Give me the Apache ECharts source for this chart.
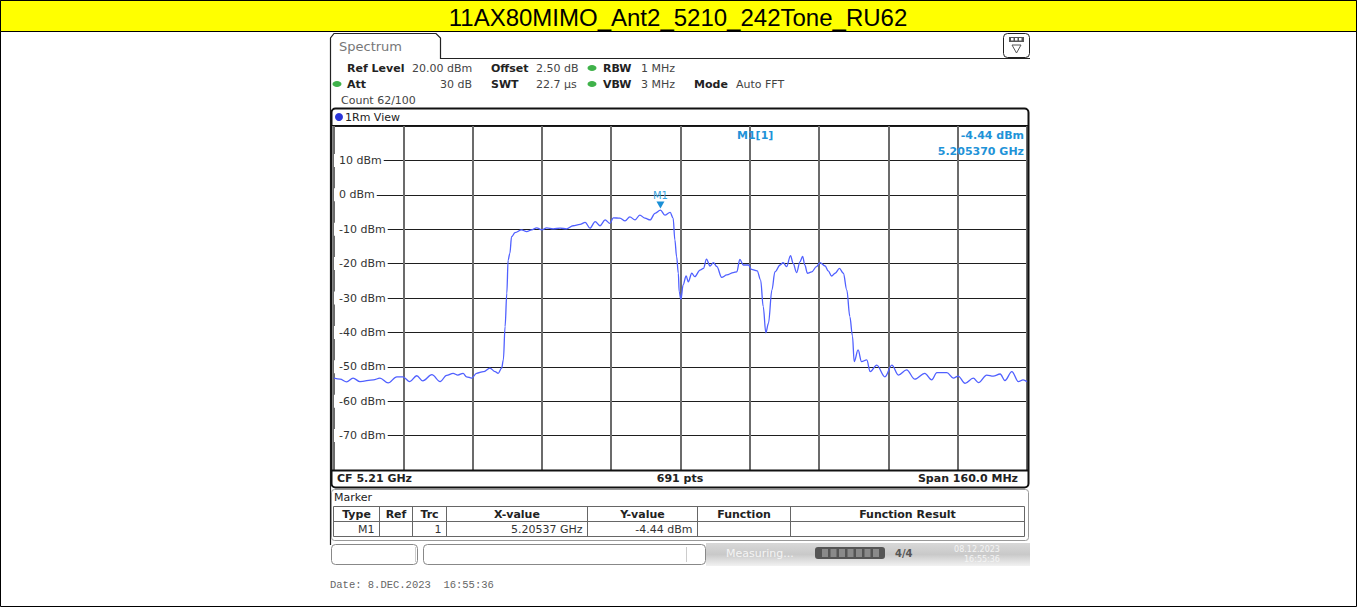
<!DOCTYPE html>
<html>
<head>
<meta charset="utf-8">
<title>11AX80MIMO_Ant2_5210_242Tone_RU62</title>
<script src="https://cdn.jsdelivr.net/npm/echarts@6/dist/echarts.min.js"></script>
<style>
  html, body { margin: 0; padding: 0; background: #fff; }
  #chart { width: 1357px; height: 607px; }
</style>
</head>
<body>
<div id="chart"></div>
<script>
// Spectrum analyzer capture: CF 5.21 GHz, span 160 MHz, 10 dB/div from 20 dBm ref level
const title = '11AX80MIMO_Ant2_5210_242Tone_RU62';
const centerGHz = 5.21;
const spanMHz = 160;
const refLevel = 20;
const bottomLevel = -80;

// Trace 1 (RM detector), frequency in GHz and level in dBm
const traceFreqGHz = [
  5.1300, 5.1314, 5.1329, 5.1344, 5.1360, 5.1391, 5.1406, 5.1425, 5.1445, 5.1459,
  5.1475, 5.1491, 5.1505, 5.1526, 5.1545, 5.1560, 5.1575, 5.1586, 5.1598, 5.1606,
  5.1618, 5.1629, 5.1645, 5.1660, 5.1672, 5.1679, 5.1687, 5.1691, 5.1695, 5.1699,
  5.1702, 5.1706, 5.1710, 5.1718, 5.1733, 5.1745, 5.1756, 5.1768, 5.1780, 5.1791,
  5.1806, 5.1822, 5.1837, 5.1852, 5.1868, 5.1880, 5.1891, 5.1903, 5.1914, 5.1926,
  5.1937, 5.1945, 5.1960, 5.1972, 5.1983, 5.1995, 5.2006, 5.2018, 5.2030, 5.2041,
  5.20537, 5.2064, 5.2076, 5.2083, 5.2087, 5.2091, 5.2095, 5.2097, 5.2101, 5.2106,
  5.2113, 5.2118, 5.2126, 5.2133, 5.2145, 5.2153, 5.2160, 5.2168, 5.2176, 5.2184,
  5.2195, 5.2207, 5.2222, 5.2230, 5.2237, 5.2245, 5.2257, 5.2264, 5.2277, 5.2285,
  5.2291, 5.2297, 5.2303, 5.2311, 5.2318, 5.2330, 5.2337, 5.2345, 5.2354, 5.2360,
  5.2368, 5.2376, 5.2382, 5.2387, 5.2393, 5.2403, 5.2414, 5.2422, 5.2434, 5.2441,
  5.2449, 5.2457, 5.2467, 5.2476, 5.2484, 5.2491, 5.2497, 5.2501, 5.2510, 5.2518,
  5.2530, 5.2538, 5.2553, 5.2572, 5.2588, 5.2603, 5.2622, 5.2641, 5.2664, 5.2680,
  5.2692, 5.2715, 5.2730, 5.2741, 5.2757, 5.2776, 5.2788, 5.2807, 5.2822, 5.2838,
  5.2849, 5.2865, 5.2880, 5.2891, 5.2900
];
const traceLevelDbm = [
  -53.3, -53.6, -54.4, -53.3, -54.3, -53.8, -53.3, -54.7, -52.9, -52.9,
  -54.3, -52.6, -54.1, -52.3, -54.3, -52.5, -51.9, -52.4, -51.9, -52.9,
  -53.3, -51.9, -51.4, -50.4, -51.4, -51.9, -50.4, -48.0, -38.3, -28.6,
  -19.0, -17.0, -12.2, -11.0, -10.2, -10.7, -10.2, -9.6, -10.2, -9.6,
  -9.9, -9.7, -9.9, -9.0, -8.6, -8.0, -9.7, -7.8, -9.0, -7.3,
  -8.3, -6.7, -6.8, -7.6, -6.4, -7.3, -5.9, -6.8, -7.3, -5.4,
  -4.44, -5.9, -5.1, -6.8, -13.1, -18.0, -22.8, -28.2, -30.4, -26.2,
  -23.6, -25.3, -22.8, -23.8, -21.9, -21.4, -18.7, -20.7, -19.7, -20.9,
  -24.0, -23.3, -22.6, -22.4, -18.8, -20.4, -20.4, -21.7, -22.1, -24.8,
  -32.5, -40.1, -37.4, -27.7, -22.4, -20.4, -19.7, -20.9, -17.7, -19.9,
  -22.6, -19.4, -17.9, -20.4, -22.8, -22.4, -20.9, -19.7, -20.7, -22.1,
  -23.6, -22.8, -21.4, -22.8, -27.7, -35.4, -41.0, -48.5, -45.1, -48.5,
  -48.0, -51.4, -49.5, -52.9, -49.5, -52.4, -50.9, -53.6, -51.9, -53.8,
  -51.7, -51.7, -53.3, -52.7, -54.8, -53.3, -54.6, -52.4, -52.7, -52.1,
  -54.0, -51.4, -54.3, -53.8, -54.3
];

// Marker M1
const markerName = 'M1';
const markerFreqGHz = 5.20537;
const markerLevelDbm = -4.44;

// Header settings
const headerRow1 = [['Ref Level', '20.00 dBm'], ['Offset', '2.50 dB'], ['RBW', '1 MHz']];
const headerRow2 = [['Att', '30 dB'], ['SWT', '22.7 µs'], ['VBW', '3 MHz'], ['Mode', 'Auto FFT']];
const countText = 'Count 62/100';
const traceLabel = '1Rm View';
const footerTexts = ['CF 5.21 GHz', '691 pts', 'Span 160.0 MHz'];
const tableHeaders = ['Type', 'Ref', 'Trc', 'X-value', 'Y-value', 'Function', 'Function Result'];
const tableRow = ['M1', '', '1', '5.20537 GHz', '-4.44 dBm', '', ''];
const dateText = 'Date: 8.DEC.2023  16:55:36';
const statusDate = ['08.12.2023', '16:55:36'];

const traceData = traceFreqGHz.map((f, i) => [(f - centerGHz) * 1000, traceLevelDbm[i]]);

const UI = 'DejaVu Sans, Verdana, sans-serif';
const FRAME_Z = 100;

function txt(text, x, y, opt) {
  opt = opt || {};
  return {
    type: 'text', z: FRAME_Z + 2, silent: true,
    style: {
      text: text, x: x, y: y,
      fill: opt.fill || '#222',
      font: (opt.weight || 'normal') + ' ' + (opt.size || 11) + 'px ' + (opt.family || UI),
      align: opt.align || 'left',
      verticalAlign: 'middle'
    }
  };
}
function line(x1, y1, x2, y2, stroke, w) {
  return { type: 'line', z: FRAME_Z, silent: true,
    shape: { x1: x1, y1: y1, x2: x2, y2: y2 },
    style: { stroke: stroke || '#000', lineWidth: w || 1 } };
}
function rect(x, y, w, h, opt) {
  opt = opt || {};
  return { type: 'rect', z: opt.z != null ? opt.z : FRAME_Z, silent: true,
    shape: { x: x, y: y, width: w, height: h, r: opt.r || 0 },
    style: { fill: opt.fill || 'none', stroke: opt.stroke || 'none', lineWidth: opt.lw || 1 } };
}

const graphics = [];
// Page border and title bar
graphics.push(rect(0.5, 0.5, 1356, 606, { stroke: '#000', z: 1 }));
graphics.push(rect(0.5, 0.5, 1356, 31, { fill: '#ffff00', stroke: '#000', z: 1 }));
graphics.push(txt(title, 678, 17, { size: 24, family: 'Liberation Sans, Arial, sans-serif', fill: '#000', align: 'center' }));

// Spectrum tab and panel outline
graphics.push({ type: 'polyline', z: FRAME_Z, silent: true,
  shape: { points: [[330.5, 545], [330.5, 38], [334, 33.5], [436, 33.5], [440.5, 38], [440.5, 58.5], [1030, 58.5]] },
  style: { stroke: '#222', lineWidth: 1.2, fill: 'none' } });
graphics.push(txt('Spectrum', 339, 46, { size: 13, fill: '#777' }));
// Menu icon at upper right
graphics.push(rect(1003.5, 33.5, 26, 24, { r: 4, stroke: '#222', fill: '#fff' }));
graphics.push(rect(1009, 37, 15, 5, { fill: '#555' }));
[1011, 1015, 1019].forEach(x => graphics.push(rect(x, 38, 2.5, 2.5, { fill: '#fff', z: FRAME_Z + 1 })));
graphics.push({ type: 'polygon', z: FRAME_Z, silent: true,
  shape: { points: [[1012, 45], [1021, 45], [1016.5, 53]] },
  style: { fill: '#fff', stroke: '#555', lineWidth: 1 } });

// Header settings block
const hx1 = [[347, 412], [491, 536], [603, 641]];
headerRow1.forEach((p, i) => {
  graphics.push(txt(p[0], hx1[i][0], 68, { weight: 'bold' }));
  graphics.push(txt(p[1], hx1[i][1], 68, { fill: '#444' }));
});
graphics.push(txt(headerRow2[0][0], 347, 84, { weight: 'bold' }));
graphics.push(txt(headerRow2[0][1], 472, 84, { fill: '#444', align: 'right' }));
const hx2 = [[491, 536], [603, 641], [694, 736]];
headerRow2.slice(1).forEach((p, i) => {
  graphics.push(txt(p[0], hx2[i][0], 84, { weight: 'bold' }));
  graphics.push(txt(p[1], hx2[i][1], 84, { fill: '#444' }));
});
graphics.push(txt(countText, 341, 100, { fill: '#444' }));
[[592, 68], [337, 84], [592, 84]].forEach(c => graphics.push({
  type: 'ellipse', z: FRAME_Z, silent: true,
  shape: { cx: c[0], cy: c[1], rx: 4.5, ry: 3 }, style: { fill: '#3fb24a' } }));

// Diagram frame
graphics.push(rect(331.5, 108.5, 697, 379, { r: 4, stroke: '#111', lw: 2 }));
graphics.push(line(332, 125.5, 1028, 125.5, '#111', 1));
graphics.push(line(332, 470.5, 1028, 470.5, '#111', 2));
graphics.push({ type: 'circle', z: FRAME_Z, silent: true,
  shape: { cx: 339, cy: 117, r: 4 }, style: { fill: '#2a35d8' } });
graphics.push(txt(traceLabel, 345, 117, { size: 11 }));
graphics.push(txt(footerTexts[0], 337, 478.5, { weight: 'bold' }));
graphics.push(txt(footerTexts[1], 680, 478.5, { weight: 'bold', align: 'center' }));
graphics.push(txt(footerTexts[2], 1018, 478.5, { weight: 'bold', align: 'right' }));

// Marker readout
graphics.push(txt(markerName + '[1]', 737, 135, { fill: '#1f93d8', weight: 'bold' }));
graphics.push(txt(markerLevelDbm.toFixed(2) + ' dBm', 1024, 135, { fill: '#1f93d8', weight: 'bold', align: 'right' }));
graphics.push(txt(markerFreqGHz.toFixed(6) + ' GHz', 1024, 151, { fill: '#1f93d8', weight: 'bold', align: 'right' }));

// Marker table
graphics.push(rect(331.5, 489.5, 697, 51, { r: 3, stroke: '#999' }));
graphics.push(txt('Marker', 334, 497));
graphics.push(rect(333.5, 506.5, 691, 30, { stroke: '#666' }));
graphics.push(line(334, 521.5, 1024, 521.5, '#666', 1));
const colX = [333.5, 379.5, 412.5, 446.5, 587.5, 697.5, 790.5, 1024.5];
colX.slice(1, -1).forEach(x => graphics.push(line(x, 507, x, 536, '#666', 1)));
tableHeaders.forEach((h, i) => graphics.push(txt(h, (colX[i] + colX[i + 1]) / 2, 514, { weight: 'bold', align: 'center' })));
tableRow.forEach((v, i) => { if (v) graphics.push(txt(v, colX[i + 1] - 5, 529, { align: 'right', fill: '#333' })); });

// Status bar
graphics.push(rect(331.5, 544.5, 86, 20, { r: 4, stroke: '#888', fill: '#fff' }));
graphics.push(line(415.5, 547, 415.5, 562, '#ccc', 1));
graphics.push(rect(423.5, 544.5, 282, 20, { r: 4, stroke: '#888', fill: '#fff' }));
graphics.push(line(686.5, 547, 686.5, 562, '#ccc', 1));
graphics.push({ type: 'rect', z: FRAME_Z - 1, silent: true,
  shape: { x: 706, y: 543, width: 324, height: 23 },
  style: { fill: new echarts.graphic.LinearGradient(0, 0, 0, 1, [
    { offset: 0, color: '#d8d8d8' }, { offset: 0.5, color: '#c9c9c9' }, { offset: 1, color: '#f2f2f2' }]) } });
graphics.push(txt('Measuring...', 726, 553, { fill: '#f4f4f4' }));
graphics.push(rect(815, 547, 70, 12, { r: 3, fill: '#555' }));
for (let i = 0; i < 7; i++) graphics.push(rect(822 + i * 8.5, 549, 6, 8, { fill: '#8a8a8a', z: FRAME_Z + 1 }));
graphics.push(txt('4/4', 895, 553, { fill: '#555', weight: 'bold', size: 10 }));
graphics.push(txt(statusDate[0], 977, 549, { fill: '#f4f4f4', size: 8, align: 'center' }));
graphics.push(txt(statusDate[1], 982, 559, { fill: '#f4f4f4', size: 8, align: 'center' }));

// Capture date
graphics.push(txt(dateText, 330, 585, { family: 'Liberation Mono, DejaVu Sans Mono, monospace', size: 10.5, fill: '#666' }));

const chart = echarts.init(document.getElementById('chart'), null, { renderer: 'svg' });
chart.setOption({
  animation: false,
  backgroundColor: '#fff',
  grid: { left: 334, right: 330, top: 126, bottom: 137 },
  xAxis: {
    type: 'value',
    min: -spanMHz / 2, max: spanMHz / 2, interval: spanMHz / 10,
    axisLine: { show: false }, axisTick: { show: false }, axisLabel: { show: false },
    splitLine: { show: true, lineStyle: { color: '#6b6b6b', width: 2 } }
  },
  yAxis: {
    type: 'value',
    min: bottomLevel, max: refLevel, interval: 10,
    axisLine: { show: false }, axisTick: { show: false },
    axisLabel: {
      inside: true, margin: 0, showMinLabel: false, showMaxLabel: false,
      formatter: v => v + ' dBm', color: '#333', fontSize: 11, fontFamily: UI,
      backgroundColor: '#fff', padding: [1, 2, 1, 5]
    },
    splitLine: { show: true, lineStyle: { color: '#1e1e1e', width: 1 } }
  },
  graphic: graphics,
  series: [{
    type: 'line',
    data: traceData,
    showSymbol: false,
    smooth: 0.35,
    smoothMonotone: 'x',
    lineStyle: { color: '#5060ff', width: 1.3 },
    z: 5,
    markPoint: {
      symbol: 'triangle', symbolRotate: 180, symbolSize: [8, 7], symbolOffset: [0, -5],
      itemStyle: { color: '#1a8fd6' },
      label: { show: true, position: 'top', distance: 1, formatter: markerName, color: '#3aa3de', fontSize: 10, fontFamily: UI },
      data: [{ coord: [(markerFreqGHz - centerGHz) * 1000, markerLevelDbm] }]
    }
  }]
});
</script>
</body>
</html>
